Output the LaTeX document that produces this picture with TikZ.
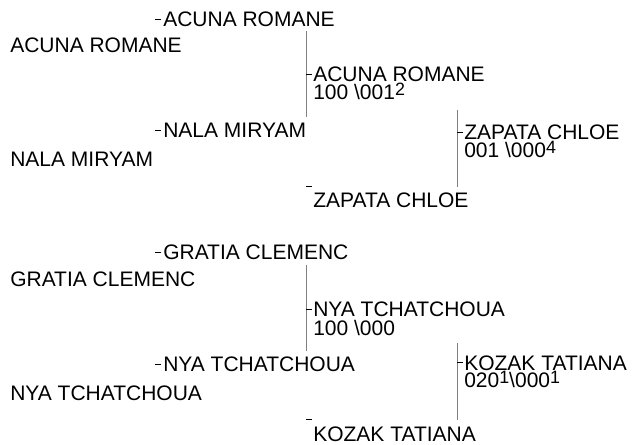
\documentclass[tikz,border=0pt]{standalone}
\usepackage{fontspec}
\setmainfont{Liberation Sans}
\usepackage{tikz}
\usetikzlibrary{positioning}
\newcommand\upmark[1]{\raisebox{3pt}{\fontsize{13.4}{14}\selectfont #1}}
\tikzstyle{player}=[inner sep=0pt,anchor=base west,font=\fontsize{15.75}{18}\selectfont]
\tikzstyle{stub}=[line width=.6pt]
\tikzstyle{bar}=[line width=.75pt,black!50]

\begin{document}
\begin{tikzpicture}[x=0.75pt,y=-0.75pt]
	\useasboundingbox (0,0) rectangle (632,445);
	% first bracket
	\node[player] (seedA) at (10,53)  {ACUNA ROMANE};
	\node[player] (seedB) at (10,167) {NALA MIRYAM};
	\node[player] (qa) at (163,27)  {ACUNA ROMANE};
	\node[player] (qb) at (163,138) {NALA MIRYAM};
	\node[player] (sa) at (313,82)  {ACUNA ROMANE};
	\node[player] (sas) at ([yshift=-13.5pt]sa.base west) {100 \textbackslash 001\upmark{2}};
	\node[player] (sb) at (313,208) {ZAPATA CHLOE};
	\node[player] (fa) at (464,140) {ZAPATA CHLOE};
	\node[player] (fas) at ([yshift=-13pt]fa.base west) {001 \textbackslash 000\upmark{4}};
	\coordinate (barA1) at (306,31);  \coordinate (barA2) at (306,117);
	\coordinate (barB1) at (457,110); \coordinate (barB2) at (457,187);
	\draw[bar] (barA1) -- (barA2);
	\draw[bar] (barB1) -- (barB2);
	\draw[stub] ([xshift=-6pt]qa.west) -- ([xshift=-1.5pt]qa.west);
	\draw[stub] ([xshift=-6pt]qb.west) -- ([xshift=-1.5pt]qb.west);
	\draw[stub] (sa.west -| barA1) -- ([xshift=-1pt]sa.west);
	\draw[stub] (fa.west -| barB1) -- ([xshift=-1pt]fa.west);
	\draw[stub] ([shift={(-5pt,5pt)}]sb.north west) -- ([shift={(-1pt,5pt)}]sb.north west);
	% second bracket
	\node[player] (seedC) at (10,287) {GRATIA CLEMENC};
	\node[player] (seedD) at (10,400) {NYA TCHATCHOUA};
	\node[player] (qc) at (163,260) {GRATIA CLEMENC};
	\node[player] (qd) at (163,372) {NYA TCHATCHOUA};
	\node[player] (sc) at (313,317) {NYA TCHATCHOUA};
	\node[player] (scs) at ([yshift=-13.5pt]sc.base west) {100 \textbackslash 000};
	\node[player] (sd) at (313,441) {KOZAK TATIANA};
	\node[player] (fc) at (464,370) {KOZAK TATIANA};
	\node[player] (fcs) at ([yshift=-13pt]fc.base west) {020\upmark{1}\textbackslash 000\upmark{1}};
	\coordinate (barC1) at (306,265); \coordinate (barC2) at (306,351);
	\coordinate (barD1) at (457,343); \coordinate (barD2) at (457,420);
	\draw[bar] (barC1) -- (barC2);
	\draw[bar] (barD1) -- (barD2);
	\draw[stub] ([xshift=-6pt]qc.west) -- ([xshift=-1.5pt]qc.west);
	\draw[stub] ([xshift=-6pt]qd.west) -- ([xshift=-1.5pt]qd.west);
	\draw[stub] (sc.west -| barC1) -- ([xshift=-1pt]sc.west);
	\draw[stub] (fc.west -| barD1) -- ([xshift=-1pt]fc.west);
	\draw[stub] ([shift={(-5pt,5pt)}]sd.north west) -- ([shift={(-1pt,5pt)}]sd.north west);
\end{tikzpicture}
\end{document}
